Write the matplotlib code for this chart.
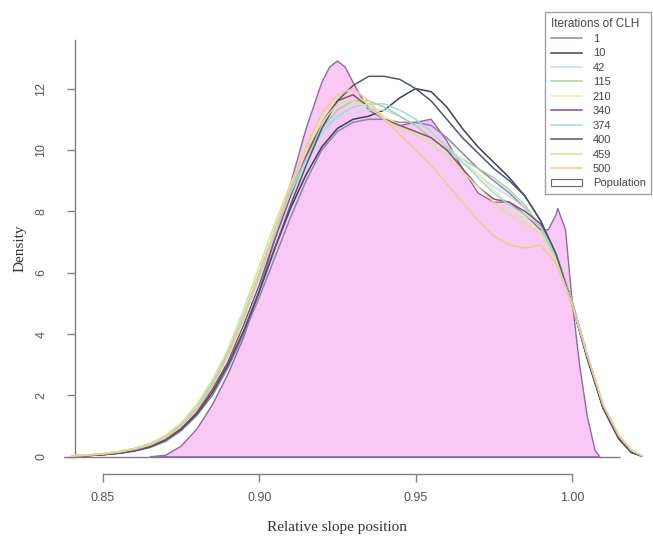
import matplotlib
matplotlib.use('Agg')
import matplotlib.pyplot as plt
from matplotlib.lines import Line2D
from matplotlib.patches import Patch

# density curves, one per CLH iteration count
x = [0.840, 0.845, 0.850, 0.855, 0.860, 0.865, 0.870, 0.875, 0.880, 0.885,
     0.890, 0.895, 0.900, 0.905, 0.910, 0.915, 0.920, 0.925, 0.930, 0.935,
     0.940, 0.945, 0.950, 0.955, 0.960, 0.965, 0.970, 0.975, 0.980, 0.985,
     0.990, 0.995, 1.000, 1.005, 1.010, 1.015, 1.019, 1.0225]

iterations = ['1', '10', '42', '115', '210', '340', '374', '400', '459', '500']

dens_1 = [.02, .04, .07, .11, .18, .3, .5, .85, 1.35, 2.0, 2.9, 4.0, 5.2, 6.5, 7.8, 9.0, 10.0, 10.6, 10.9, 11.0,
          11.0, 10.9, 10.9, 10.8, 10.4, 9.9, 9.4, 9.0, 8.6, 8.1, 7.5, 6.5, 5.0, 3.2, 1.6, 0.6, 0.15, 0.02]
dens_10 = [.02, .04, .07, .12, .2, .33, .55, .9, 1.4, 2.1, 3.0, 4.1, 5.4, 6.8, 8.1, 9.2, 10.1, 10.7, 11.0, 11.1,
           11.3, 11.7, 12.0, 11.9, 11.4, 10.7, 10.1, 9.6, 9.1, 8.5, 7.7, 6.6, 5.0, 3.2, 1.6, 0.6, 0.15, 0.02]
dens_42 = [.03, .06, .1, .16, .25, .4, .65, 1.0, 1.55, 2.3, 3.3, 4.5, 5.8, 7.2, 8.5, 9.6, 10.5, 11.0, 11.2, 11.3,
           11.3, 11.1, 10.8, 10.4, 10.0, 9.6, 9.2, 8.8, 8.5, 8.1, 7.5, 6.5, 5.1, 3.3, 1.7, 0.65, 0.2, 0.03]
dens_115 = [.03, .06, .1, .17, .27, .42, .68, 1.05, 1.6, 2.4, 3.4, 4.6, 6.0, 7.4, 8.7, 9.8, 10.7, 11.3, 11.6, 11.6,
            11.4, 11.1, 10.8, 10.4, 10.0, 9.7, 9.4, 9.1, 8.7, 8.2, 7.5, 6.4, 5.0, 3.3, 1.7, 0.7, 0.22, 0.03]
dens_210 = [.03, .06, .1, .17, .27, .43, .7, 1.1, 1.7, 2.5, 3.5, 4.8, 6.2, 7.6, 8.9, 10.0, 11.0, 11.7, 11.8, 11.5,
            11.1, 10.8, 10.6, 10.4, 10.1, 9.7, 9.2, 8.7, 8.2, 7.8, 7.3, 6.4, 5.0, 3.3, 1.7, 0.7, 0.22, 0.03]
dens_340 = [.02, .04, .07, .12, .2, .34, .56, .92, 1.45, 2.2, 3.1, 4.3, 5.6, 7.1, 8.5, 9.8, 10.9, 11.6, 11.8, 11.4,
            11.0, 10.8, 10.6, 10.4, 10.0, 9.4, 8.8, 8.4, 8.3, 8.0, 7.6, 6.6, 5.1, 3.3, 1.6, 0.6, 0.15, 0.02]
dens_374 = [.03, .06, .1, .17, .27, .42, .68, 1.05, 1.6, 2.4, 3.4, 4.6, 5.9, 7.3, 8.6, 9.7, 10.6, 11.1, 11.4, 11.5,
            11.5, 11.3, 11.0, 10.6, 10.1, 9.6, 9.1, 8.6, 8.2, 7.9, 7.5, 6.6, 5.1, 3.3, 1.7, 0.7, 0.22, 0.03]
dens_400 = [.02, .04, .07, .12, .2, .33, .55, .9, 1.4, 2.1, 3.0, 4.1, 5.4, 6.8, 8.2, 9.5, 10.7, 11.6, 12.1, 12.4,
            12.4, 12.3, 12.0, 11.6, 11.0, 10.4, 9.9, 9.4, 9.0, 8.5, 7.7, 6.6, 5.0, 3.2, 1.6, 0.6, 0.15, 0.02]
dens_459 = [.03, .06, .1, .17, .27, .43, .7, 1.1, 1.7, 2.5, 3.5, 4.8, 6.2, 7.6, 8.9, 10.0, 10.9, 11.5, 11.6, 11.4,
            11.0, 10.7, 10.5, 10.2, 9.8, 9.3, 8.8, 8.3, 7.9, 7.6, 7.3, 6.4, 5.0, 3.3, 1.7, 0.7, 0.22, 0.03]
dens_500 = [.02, .05, .09, .15, .24, .38, .62, 1.0, 1.55, 2.3, 3.3, 4.5, 5.9, 7.4, 8.8, 10.1, 11.2, 11.8, 12.0, 11.6,
            11.0, 10.5, 10.0, 9.5, 8.9, 8.3, 7.7, 7.2, 6.9, 6.8, 6.9, 6.3, 5.0, 3.3, 1.7, 0.7, 0.22, 0.03]

# population density (filled)
pop_x = [0.865, 0.870, 0.875, 0.880, 0.885, 0.890, 0.895, 0.900, 0.905, 0.910, 0.915, 0.920, 0.9225,
         0.925, 0.9275, 0.930, 0.935, 0.940, 0.945, 0.950, 0.955, 0.960, 0.965, 0.970, 0.975, 0.980,
         0.985, 0.990, 0.9925, 0.995, 0.9955, 0.998, 1.000, 1.0025, 1.005, 1.0075, 1.009]
pop_y = [0, 0.05, 0.35, 0.9, 1.7, 2.7, 3.9, 5.4, 7.1, 8.9, 10.7, 12.2, 12.7,
         12.9, 12.7, 12.2, 11.3, 11.0, 10.8, 10.9, 11.0, 10.3, 9.4, 8.6, 8.3, 8.3,
         7.9, 7.4, 7.4, 7.9, 8.1, 7.4, 5.2, 3.0, 1.3, 0.2, 0]

series = [dens_1, dens_10, dens_42, dens_115, dens_210, dens_340, dens_374, dens_400, dens_459, dens_500]
colors = ['#8c84b4', '#3e3e5e', '#c6dcf0', '#a4d49c', '#e2f0a0', '#8e4e70',
          '#a2dada', '#4c5872', '#d2e49c', '#f2c890']

fig = plt.figure(figsize=(6.53, 5.44), dpi=100)
ax = fig.add_axes([64 / 653, 70 / 544, 589 / 653, 434.5 / 544])
ax.set_xlim(0.8375, 1.026)
ax.set_ylim(-0.56, 13.6)

ax.fill(pop_x, pop_y, facecolor='#f9c8f4', edgecolor='#8a6d9e', linewidth=1.0, zorder=1)
ax.hlines(0, 0.8372, 1.0153, color='#85788c', linewidth=1.0, zorder=2)

for ys, c in zip(series, colors):
    ax.plot(x, ys, color=c, linewidth=1.1, zorder=3)

# R-style detached axes
for s in ['top', 'right']:
    ax.spines[s].set_visible(False)
ax.spines['left'].set_position(('data', 0.8411))
ax.spines['left'].set_bounds(0, 13.6)
ax.spines['bottom'].set_bounds(0.85, 1.0)
for s in ['left', 'bottom']:
    ax.spines[s].set_color('#808080')
    ax.spines[s].set_linewidth(1.0)

ax.set_xticks([0.85, 0.90, 0.95, 1.00])
ax.set_xticklabels(['0.85', '0.90', '0.95', '1.00'])
ax.set_yticks([0, 2, 4, 6, 8, 10, 12])
ax.set_yticklabels(['0', '2', '4', '6', '8', '10', '12'], rotation=90, va='center')
ax.tick_params(axis='both', direction='out', length=6, width=1.0, color='#808080',
               labelcolor='#555555', labelsize=9)
for lab in ax.get_xticklabels() + ax.get_yticklabels():
    lab.set_family('Liberation Sans')
ax.tick_params(axis='x', pad=7)
ax.tick_params(axis='y', pad=14)

fig.text(337 / 653, 1 - 528 / 544, 'Relative slope position', family='Liberation Serif',
         fontsize=11, color='#333333', ha='center', va='center')
fig.text(20 / 653, 1 - 248 / 544, 'Density', family='Liberation Serif',
         fontsize=11, color='#333333', ha='center', va='center', rotation=90)

handles = [Line2D([0], [0], color=c, linewidth=1.1) for c in colors]
handles.append(Patch(facecolor='white', edgecolor='#666666', linewidth=0.8))
labels = iterations + ['Population']
leg = fig.legend(handles, labels, title='Iterations of CLH', loc='upper left',
                 bbox_to_anchor=(545 / 653, 1 - 12 / 544), prop={'family': 'Liberation Sans', 'size': 8},
                 title_fontproperties={'family': 'Liberation Sans', 'size': 8.5},
                 frameon=True, fancybox=False, edgecolor='#888888',
                 labelspacing=0.4, handlelength=2.8, handletextpad=1.0,
                 borderpad=0.5, borderaxespad=0)
leg._legend_box.align = 'left'
leg.get_frame().set_linewidth(1.0)
for t in leg.get_texts():
    t.set_color('#444444')
leg.get_title().set_color('#444444')

fig.savefig('out.png', dpi=100)
